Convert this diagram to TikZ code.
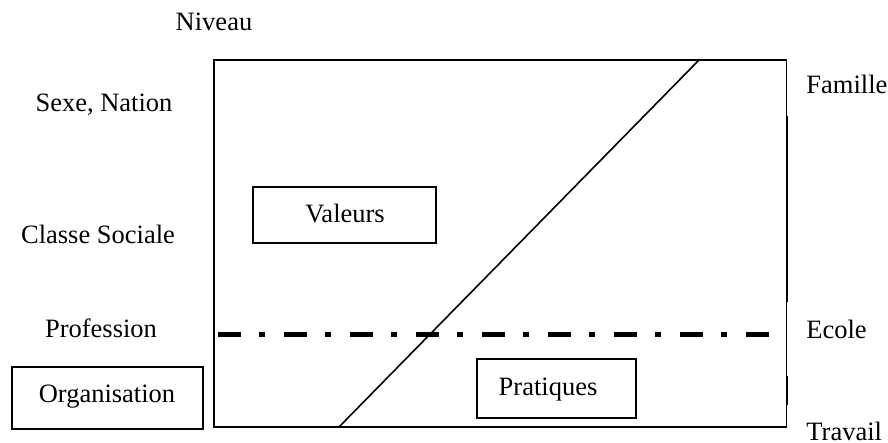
\documentclass[tikz,border=0pt]{standalone}
\usepackage{fontspec}
\setmainfont{Liberation Serif}
\begin{document}
\begin{tikzpicture}[x=0.5pt,y=-0.5pt,
  lbl/.style={font=\fontsize{13.25}{16}\selectfont, inner sep=0pt, anchor=base},
  boxnode/.style={draw, line width=0.8pt, inner sep=0pt},
  frameline/.style={line width=1pt, line cap=rect},
  thinside/.style={line width=0.5pt},
  sidemark/.style={line width=1.3pt},
  diag/.style={line width=0.8pt},
  divider/.style={line width=2.5pt, dash pattern=on 11.5pt off 9pt on 3pt off 9.5pt}]
\useasboundingbox (0,0) rectangle (888,443);

% frame corners
\coordinate (tl) at (214,60);
\coordinate (tr) at (786,60);
\coordinate (bl) at (214,427);
\coordinate (br) at (786,427);

% frame: thick on three sides, thin on the right
\draw[frameline] (bl) -- (tl) -- (tr);
\draw[frameline] (bl) -- (br);
\draw[thinside] (tr) -- (br);

% heavier marks along the right side
\coordinate (m1a) at (787,116);
\coordinate (m1b) at (787,302);
\coordinate (m2a) at (787,376);
\coordinate (m2b) at (787,405);
\draw[sidemark] (m1a) -- (m1b);
\draw[sidemark] (m2a) -- (m2b);

% diagonal
\coordinate (dlow) at (339,427);
\coordinate (dhigh) at (699,60);
\draw[diag] (dlow) -- (dhigh);

% dash-dot divider
\coordinate (divl) at (218,334);
\coordinate (divr) at (770,334);
\draw[divider] (divl) -- (divr);

% boxes
\node[boxnode, minimum width=91.5pt, minimum height=28pt] (valeurs) at (344.5,215) {};
\node[lbl] (valeurstxt) at (345,223) {Valeurs};
\node[boxnode, minimum width=79.5pt, minimum height=29.5pt] (pratiques) at (556.5,388.5) {};
\node[lbl] (pratiquestxt) at (548,395) {Pratiques};
\node[boxnode, minimum width=95.5pt, minimum height=31pt] (organisation) at (107.5,398) {};
\node[lbl] (organisationtxt) at (107,402) {Organisation};

% level labels
\node[lbl] (niveau) at (214,31) {Niveau};
\node[lbl] (sexe) at (104,112) {Sexe, Nation};
\node[lbl] (classe) at (98,243) {Classe Sociale};
\node[lbl] (profession) at (101,337) {Profession};

% right-hand labels
\node[lbl, anchor=base west] (famille) at (806,94) {Famille};
\node[lbl, anchor=base west] (ecole) at (806,338) {Ecole};
\node[lbl, anchor=base west] (travail) at (806,440) {Travail};
\end{tikzpicture}
\end{document}
